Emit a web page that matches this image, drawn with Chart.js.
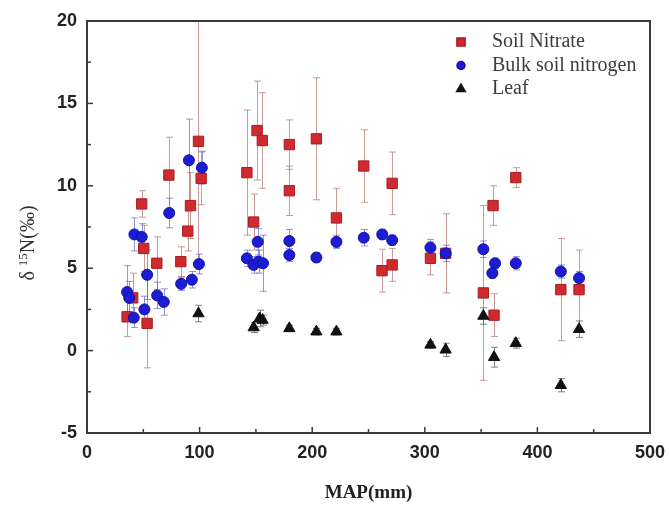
<!DOCTYPE html>
<html>
<head>
<meta charset="utf-8">
<script src="https://cdn.jsdelivr.net/npm/chart.js@4/dist/chart.umd.min.js"></script>
<style>
  html, body { margin: 0; padding: 0; background: #fff; }
  #wrap { width: 669px; height: 507px; }
</style>
</head>
<body>
<div id="wrap"><canvas id="chart"></canvas></div>
<script>
// soil nitrate: MAP (mm), d15N, error
var nitrate_map = [35.6, 40.6, 48.6, 50.4, 53.4, 62, 72.7, 83.3, 89.5, 91.9, 99, 101.4, 142, 148, 151, 155.7, 179.7, 179.7, 203.7, 221.5, 245.8, 262, 271, 271, 305, 318.5, 352, 360.6, 361.5, 380.8, 420.8, 437];
var nitrate_d15n = [2.05, 3.2, 8.9, 6.2, 1.65, 5.3, 10.65, 5.4, 7.25, 8.8, 12.7, 10.45, 10.8, 7.8, 13.35, 12.75, 12.5, 9.7, 12.85, 8.05, 11.2, 4.85, 5.2, 10.15, 5.6, 5.9, 3.5, 8.8, 2.15, 10.5, 3.7, 3.7];
var nitrate_err = [1.2, 1.5, 0.8, 1.4, 2.7, 1.6, 2.3, 0.9, 1.2, 2.0, 7.3, 1.6, 3.8, 1.7, 3.0, 2.9, 1.5, 1.5, 3.7, 1.8, 2.2, 1.3, 1.0, 1.9, 1.0, 2.4, 5.3, 1.2, 1.3, 0.6, 3.1, 2.4];

// bulk soil nitrogen
var bulk_map = [35.6, 37.5, 41.5, 42.1, 48.6, 51, 53.4, 62.3, 68.2, 73, 83.6, 90.5, 93.1, 99.4, 102, 142, 148, 151.6, 152.4, 156.3, 179.7, 179.7, 203.7, 221.5, 245.8, 262.2, 271, 305, 318.5, 352, 360, 362.4, 380.8, 420.8, 437];
var bulk_d15n = [3.55, 3.2, 2.0, 7.05, 6.9, 2.5, 4.6, 3.35, 2.95, 8.35, 4.05, 11.55, 4.3, 5.25, 11.1, 5.6, 5.2, 6.6, 5.4, 5.3, 6.65, 5.8, 5.65, 6.6, 6.85, 7.05, 6.7, 6.25, 5.9, 6.15, 4.7, 5.3, 5.3, 4.8, 4.4];
var bulk_err = [1.6, 1.0, 0.6, 1.0, 0.8, 0.8, 1.5, 0.8, 0.8, 0.9, 0.4, 2.5, 0.5, 0.6, 1.0, 0.5, 0.5, 0.8, 0.7, 1.7, 0.7, 0.4, 0.3, 0.4, 0.5, 0.3, 0.3, 0.5, 0.5, 0.5, 0.3, 0.3, 0.4, 0.4, 0.4];

// leaf
var leaf_map = [99, 148, 153.3, 156, 179.7, 203.7, 221.5, 305, 318.5, 352, 361.5, 380.8, 420.8, 437];
var leaf_d15n = [2.25, 1.4, 1.95, 1.85, 1.35, 1.15, 1.15, 0.35, 0.05, 2.1, -0.4, 0.45, -2.1, 1.3];
var leaf_err = [0.5, 0.3, 0.5, 0.3, 0.2, 0.2, 0.2, 0.2, 0.4, 0.5, 0.6, 0.3, 0.4, 0.5];

var series_names = ['Soil Nitrate', 'Bulk soil nitrogen', 'Leaf'];

function points(xs, ys, es) {
  var out = [];
  for (var i = 0; i < xs.length; i++) out.push({x: xs[i], y: ys[i], e: es[i]});
  return out;
}

// error bars, drawn under the markers
var errorBars = {
  id: 'errorBars',
  beforeDatasetsDraw: function(chart) {
    var ctx = chart.ctx, xs = chart.scales.x, ys = chart.scales.y, a = chart.chartArea;
    ctx.save();
    ctx.beginPath();
    ctx.rect(a.left, a.top, a.right - a.left, a.bottom - a.top);
    ctx.clip();
    chart.data.datasets.forEach(function(ds) {
      ctx.strokeStyle = ds.errColor;
      ctx.lineWidth = 1;
      ds.data.forEach(function(p) {
        var px = Math.round(xs.getPixelForValue(p.x)) + 0.5;
        var top = ys.getPixelForValue(p.y + p.e);
        var bot = ys.getPixelForValue(p.y - p.e);
        ctx.beginPath();
        ctx.moveTo(px, top); ctx.lineTo(px, bot);
        ctx.moveTo(px - 3.5, top); ctx.lineTo(px + 3.5, top);
        ctx.moveTo(px - 3.5, bot); ctx.lineTo(px + 3.5, bot);
        ctx.stroke();
      });
    });
    ctx.restore();
  }
};

// frame, inward ticks, y title and legend
var frame = {
  id: 'frame',
  afterDraw: function(chart) {
    var ctx = chart.ctx, a = chart.chartArea;
    ctx.save();
    ctx.strokeStyle = '#3a3a3a';
    ctx.lineWidth = 2;
    ctx.strokeRect(a.left, a.top, a.right - a.left, a.bottom - a.top);
    ctx.lineWidth = 1.5;
    chart.scales.y.ticks.forEach(function(t) {
      var py = chart.scales.y.getPixelForValue(t.value);
      var len = (t.value % 5 === 0) ? 6 : 4;
      ctx.beginPath(); ctx.moveTo(a.left, py); ctx.lineTo(a.left + len, py); ctx.stroke();
    });
    chart.scales.x.ticks.forEach(function(t) {
      var px = chart.scales.x.getPixelForValue(t.value);
      var len = (t.value % 100 === 0) ? 6 : 4;
      ctx.beginPath(); ctx.moveTo(px, a.bottom); ctx.lineTo(px, a.bottom - len); ctx.stroke();
    });

    // y title: δ 15N(‰) with superscript
    var big = '20px "Liberation Serif", "Times New Roman", serif';
    var small = '13px "Liberation Serif", "Times New Roman", serif';
    ctx.font = big; var w1 = ctx.measureText('δ ').width, w3 = ctx.measureText('N(‰)').width;
    ctx.font = small; var w2 = ctx.measureText('15').width;
    ctx.translate(29, 243);
    ctx.rotate(-Math.PI / 2);
    ctx.fillStyle = '#333';
    ctx.textBaseline = 'middle';
    ctx.textAlign = 'left';
    var sx = -(w1 + w2 + w3) / 2;
    ctx.font = big; ctx.fillText('δ ', sx, 0);
    ctx.font = small; ctx.fillText('15', sx + w1, -5);
    ctx.font = big; ctx.fillText('N(‰)', sx + w1 + w2, 0);
    ctx.setTransform(1, 0, 0, 1, 0, 0);

    // legend
    var lx = 461, ly = 42, gap = 23.5;
    ctx.font = big;
    chart.data.datasets.forEach(function(ds, i) {
      var y = ly + i * gap;
      ctx.fillStyle = ds.backgroundColor;
      ctx.strokeStyle = ds.borderColor;
      Chart.helpers.drawPoint(ctx, {pointStyle: ds.pointStyle, radius: ds.pointRadius - 1.5, rotation: 0, borderWidth: 1}, lx, y);
      ctx.fillStyle = '#3c3c3c';
      ctx.fillText(series_names[i], lx + 31, y);
    });
    ctx.restore();
  }
};

var data = {
  datasets: [
    {
      label: series_names[0],
      data: points(nitrate_map, nitrate_d15n, nitrate_err),
      pointStyle: 'rect', pointRadius: 7.3, pointHoverRadius: 7.3,
      backgroundColor: '#d02a2e', borderColor: '#a81e22', borderWidth: 1,
      errColor: 'rgba(180, 110, 110, 0.7)', order: 3
    },
    {
      label: series_names[1],
      data: points(bulk_map, bulk_d15n, bulk_err),
      pointStyle: 'circle', pointRadius: 5.5, pointHoverRadius: 5.5,
      backgroundColor: '#1c1cd2', borderColor: '#1212a8', borderWidth: 1,
      errColor: 'rgba(90, 90, 200, 0.65)', order: 2
    },
    {
      label: series_names[2],
      data: points(leaf_map, leaf_d15n, leaf_err),
      pointStyle: 'triangle', pointRadius: 6.5, pointHoverRadius: 6.5,
      backgroundColor: '#111111', borderColor: '#111111', borderWidth: 1,
      errColor: 'rgba(90, 90, 90, 0.75)', order: 1
    }
  ]
};

var config = {
  type: 'scatter',
  data: data,
  options: {
    responsive: true,
    maintainAspectRatio: false,
    animation: false,
    layout: { padding: { top: 21, right: 19, left: 0, bottom: 0 } },
    plugins: {
      legend: { display: false },
      tooltip: { enabled: false }
    },
    scales: {
      x: {
        type: 'linear', min: 0, max: 500,
        afterFit: function(s) { s.height = 74; s.paddingRight = 0; s.paddingLeft = 0; },
        grid: { display: false, drawTicks: false },
        border: { display: false },
        ticks: {
          stepSize: 50, padding: 9, color: '#222',
          font: { family: '"Liberation Sans", Arial, sans-serif', size: 18, weight: 'bold' },
          callback: function(v) { return v % 100 === 0 ? v : ''; },
          maxRotation: 0, autoSkip: false
        },
        title: {
          display: true, text: 'MAP(mm)', color: '#222',
          font: { family: '"Liberation Serif", "Times New Roman", serif', size: 19, weight: 'bold' },
          padding: { top: 0, bottom: 3 }
        }
      },
      y: {
        type: 'linear', min: -5, max: 20,
        afterFit: function(s) { s.width = 87; s.paddingTop = 0; s.paddingBottom = 0; },
        grid: { display: false, drawTicks: false },
        border: { display: false },
        ticks: {
          stepSize: 2.5, padding: 10, color: '#222',
          font: { family: '"Liberation Sans", Arial, sans-serif', size: 18, weight: 'bold' },
          callback: function(v) { return v % 5 === 0 ? v : ''; },
          autoSkip: false
        }
      }
    }
  },
  plugins: [errorBars, frame]
};

var myChart = new Chart(document.getElementById('chart'), config);
</script>
</body>
</html>
